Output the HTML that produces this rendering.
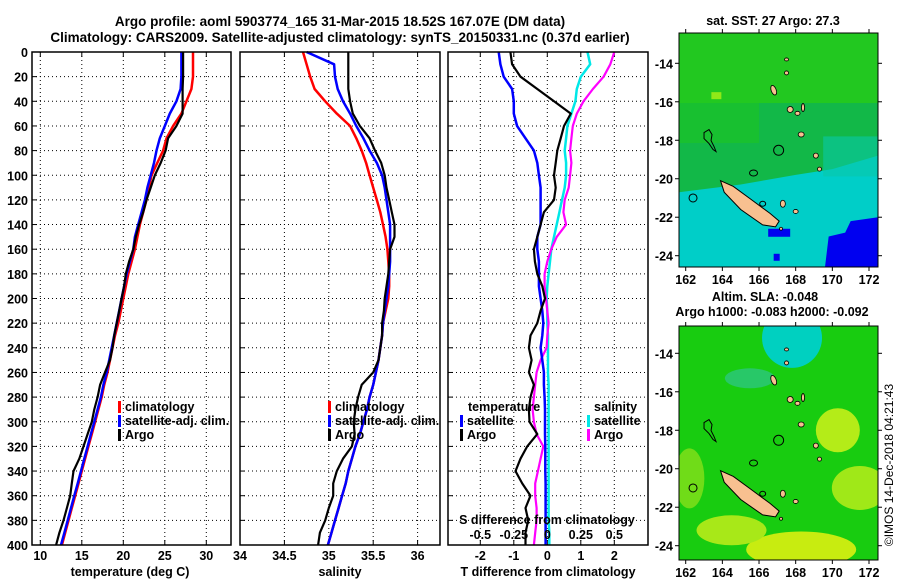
<!DOCTYPE html>
<html><head><meta charset="utf-8">
<style>
body{margin:0;background:#fff;}
svg{display:block;font-family:"Liberation Sans",sans-serif;font-weight:bold;}
</style></head>
<body>
<svg id="chart" width="900" height="580" viewBox="0 0 900 580" xmlns="http://www.w3.org/2000/svg">
<text x="340" y="26" font-size="13.5" text-anchor="middle">Argo profile: aoml 5903774_165 31-Mar-2015 18.52S 167.07E (DM data)</text>
<text x="340" y="42" font-size="13.5" text-anchor="middle">Climatology: CARS2009. Satellite-adjusted climatology: synTS_20150331.nc (0.37d earlier)</text>
<g id="plots"></g>
<text transform="translate(893,465) rotate(-90)" font-size="12" font-weight="normal" text-anchor="middle">©IMOS 14-Dec-2018 04:21:43</text>
</svg>
<script>
const depths=[0,10,20,30,40,50,60,70,80,90,100,110,120,130,140,150,160,170,180,190,200,210,220,230,240,250,260,270,280,290,300,310,320,330,340,350,360,370,380,390,400];
const climT=[28.4,28.4,28.4,28.2,27.6,27.0,26.0,25.2,24.8,24.1,23.4,23.1,22.8,22.4,22.0,21.7,21.4,21.0,20.6,20.3,20.0,19.7,19.4,19.0,18.7,18.4,18.1,17.7,17.4,17.0,16.6,16.2,15.8,15.4,15.0,14.6,14.2,13.8,13.4,13.0,12.6];
const satT=[27.0,27.0,27.0,26.9,26.4,25.6,25.0,24.4,24.0,23.7,23.3,22.9,22.6,22.2,21.8,21.4,21.2,20.8,20.4,20.1,19.8,19.5,19.2,18.9,18.6,18.3,18.0,17.6,17.3,16.9,16.5,16.1,15.7,15.3,14.9,14.5,14.1,13.7,13.3,12.9,12.5];
const argoT=[27.2,27.2,27.2,27.15,27.15,27.15,26.4,25.4,25.1,24.5,23.8,23.3,22.8,22.4,21.9,21.5,21.2,20.7,20.3,20.1,19.8,19.5,19.2,18.9,18.7,18.4,17.8,17.2,16.9,16.5,16.2,15.7,15.2,14.7,14.0,13.8,13.6,13.2,12.8,12.3,11.9];
const climS=[34.71,34.75,34.79,34.84,34.96,35.09,35.24,35.31,35.37,35.42,35.46,35.50,35.54,35.58,35.61,35.64,35.66,35.67,35.68,35.68,35.67,35.64,35.61,35.60,35.58,35.56,35.53,35.50,35.46,35.43,35.39,35.35,35.30,35.26,35.22,35.19,35.15,35.11,35.07,35.03,34.99];
const satS=[34.75,35.06,35.07,35.10,35.16,35.24,35.31,35.39,35.46,35.54,35.60,35.63,35.65,35.67,35.69,35.69,35.69,35.69,35.68,35.67,35.65,35.63,35.61,35.60,35.58,35.56,35.53,35.50,35.46,35.43,35.39,35.35,35.30,35.26,35.22,35.19,35.15,35.11,35.07,35.03,34.99];
const argoS=[35.22,35.22,35.22,35.22,35.24,35.27,35.35,35.46,35.52,35.59,35.63,35.65,35.68,35.71,35.74,35.74,35.69,35.68,35.67,35.65,35.63,35.62,35.60,35.60,35.58,35.56,35.50,35.37,35.33,35.30,35.28,35.29,35.26,35.16,35.09,35.05,35.05,35.00,34.96,34.90,34.88];
const satTdiff=[-1.45,-1.4,-1.3,-1.05,-1.0,-1.0,-0.9,-0.65,-0.4,-0.3,-0.25,-0.2,-0.2,-0.2,-0.2,-0.3,-0.3,-0.25,-0.25,-0.25,-0.2,-0.15,-0.12,-0.15,-0.2,-0.15,-0.1,-0.1,-0.08,-0.07,-0.07,-0.07,-0.06,-0.06,-0.06,-0.05,-0.05,-0.05,-0.05,-0.05,-0.05];
const argoTdiff=[-1.1,-1.05,-0.8,-0.3,0.2,0.7,0.5,0.4,0.3,0.25,0.2,0.25,0.2,-0.1,-0.2,-0.3,-0.4,-0.37,-0.3,-0.15,-0.07,-0.2,-0.3,-0.5,-0.55,-0.47,-0.55,-0.4,-0.5,-0.55,-0.53,-0.3,-0.6,-0.8,-0.95,-0.75,-0.5,-0.65,-0.57,-0.65,-0.65];
const satSdiff=[0.3,0.32,0.25,0.22,0.21,0.18,0.15,0.14,0.13,0.14,0.14,0.13,0.11,0.09,0.07,0.05,0.03,0.02,0.01,0.0,-0.005,0.0,0.0,0.005,0.005,0.005,0.005,0.01,0.01,0.01,0.01,0.01,0.01,0.01,0.01,0.01,0.01,0.01,0.01,0.015,0.015];
const argoSdiff=[0.5,0.47,0.42,0.34,0.27,0.22,0.19,0.18,0.17,0.18,0.17,0.16,0.13,0.12,0.14,0.07,0.03,0.0,-0.02,-0.02,-0.01,0.0,0.01,0.0,-0.005,-0.05,-0.08,-0.09,-0.1,-0.11,-0.1,-0.08,-0.03,-0.05,-0.07,-0.09,-0.09,-0.08,-0.08,-0.09,-0.1];
const depthTicks=[0,20,40,60,80,100,120,140,160,180,200,220,240,260,280,300,320,340,360,380,400];
const tempTicks=[10,15,20,25,30];
const salTicks=["34","34.5","35","35.5","36"];
const tdiffTicks=[-2,-1,0,1,2];
const sdiffTicks=["-0.5","-0.25","0","0.25","0.5"];
const lonTicks=[162,164,166,168,170,172];
const latTicks=[-14,-16,-18,-20,-22,-24];

const NS='http://www.w3.org/2000/svg';
const root=document.getElementById('plots');
function mk(tag,attrs,parent){const e=document.createElementNS(NS,tag);for(const k in attrs)e.setAttribute(k,attrs[k]);(parent||root).appendChild(e);return e;}
function txt(s,x,y,size,anchor,parent,fill){const t=mk('text',{x:x,y:y,'font-size':size,'text-anchor':anchor||'middle',fill:fill||'#000'},parent);t.textContent=s;return t;}
const Y0=52,Y1=545;
const yD=d=>Y0+d*(Y1-Y0)/400;
const xT=t=>40.3+(t-10)*8.3;
const xS=s=>240+(s-34)*88.8;
const xTd=v=>547.3+v*33.5;
const xSd=v=>547.3+v*134;

function frame(x0,x1,name){
  const g=mk('g',{});
  
  
  depthTicks.forEach(d=>{
    const gl=mk('line',{x1:x0,x2:x1,y1:yD(d),y2:yD(d),stroke:'#000','stroke-width':1,'stroke-dasharray':'1,3'},g);
    
    
    mk('line',{x1:x0,x2:x0+5,y1:yD(d),y2:yD(d),stroke:'#000','stroke-width':1},g);
  });
  return g;
}
function vgrid(g,xs){xs.forEach(x=>{
  const l=mk('line',{x1:x,x2:x,y1:Y0,y2:Y1,stroke:'#000','stroke-width':1,'stroke-dasharray':'1,3'},g);
  
  
  mk('line',{x1:x,x2:x,y1:Y1,y2:Y1-5,stroke:'#000'},g);
  mk('line',{x1:x,x2:x,y1:Y0,y2:Y0+5,stroke:'#000'},g);
});}
function box(g,x0,x1){const r=mk('rect',{x:x0,y:Y0,width:x1-x0,height:Y1-Y0,fill:'none',stroke:'#000','stroke-width':1.5},g);}
function line(g,vals,xf,color,w,name){
  const pts=vals.map((v,i)=>xf(v).toFixed(1)+','+yD(depths[i]).toFixed(1)).join(' ');
  const p=mk('polyline',{points:pts,fill:'none',stroke:color,'stroke-width':w,'stroke-linejoin':'round'},g);
  
  
}
function legend(g,x,y,color,label,name){
  const r=mk('rect',{x:x,y:y-10,width:3,height:12,fill:color},g);
  
  
  const t=txt(label,x+7,y,12.5,'start',g);
  
  
}

let g1=frame(32,231,'temperature-panel');
vgrid(g1,tempTicks.map(xT));
line(g1,climT,xT,'#ff0000',2.5,'climatology-temperature-line');
line(g1,satT,xT,'#0000ff',2.5,'satellite-temperature-line');
line(g1,argoT,xT,'#000000',2.2,'argo-temperature-line');
box(g1,32,231);
depthTicks.forEach(d=>{const t=txt(String(d),28,yD(d)+5,12.5,'end',g1);});
tempTicks.forEach(v=>{const t=txt(String(v),xT(v),560,12.5,'middle',g1);});
{const t=txt('temperature (deg C)',130,576,12.5,'middle',g1);}
legend(g1,118,411,'#ff0000','climatology','legend-climatology');
legend(g1,118,425,'#0000ff','satellite-adj. clim.','legend-satellite-adj');
legend(g1,118,439,'#000000','Argo','legend-argo');

let g2=frame(240,440,'salinity-panel');
vgrid(g2,salTicks.map(s=>xS(parseFloat(s))));
line(g2,climS,xS,'#ff0000',2.5,'climatology-salinity-line');
line(g2,satS,xS,'#0000ff',2.5,'satellite-salinity-line');
line(g2,argoS,xS,'#000000',2.2,'argo-salinity-line');
box(g2,240,440);
salTicks.forEach(s=>{const t=txt(s,xS(parseFloat(s)),560,12.5,'middle',g2);});
{const t=txt('salinity',340,576,12.5,'middle',g2);}
legend(g2,328,411,'#ff0000','climatology','legend-climatology');
legend(g2,328,425,'#0000ff','satellite-adj. clim.','legend-satellite-adj');
legend(g2,328,439,'#000000','Argo','legend-argo');

let g3=frame(448,648,'difference-panel');
vgrid(g3,tdiffTicks.map(xTd));
line(g3,satSdiff,xSd,'#00e8e8',2.5,'satellite-salinity-diff-line');
line(g3,argoSdiff,xSd,'#ff00ff',2.2,'argo-salinity-diff-line');
line(g3,satTdiff,xTd,'#0000ff',2.5,'satellite-temperature-diff-line');
line(g3,argoTdiff,xTd,'#000000',2.2,'argo-temperature-diff-line');
box(g3,448,648);
tdiffTicks.forEach(v=>{const t=txt(String(v),xTd(v),560,12.5,'middle',g3);});
{const t=txt('T difference from climatology',548,576,12.5,'middle',g3);}
{const t=txt('S difference from climatology',547,524,12.5,'middle',g3);}
sdiffTicks.forEach(s=>{const t=txt(s,xSd(parseFloat(s)),539,12.5,'middle',g3);});
{const t=txt('temperature',468,411,12.5,'start',g3);}
{const t=txt('salinity',594,411,12.5,'start',g3);}
legend(g3,460,425,'#0000ff','satellite','legend-temp-satellite');
legend(g3,460,439,'#000000','Argo','legend-temp-argo');
legend(g3,587,425,'#00e8e8','satellite','legend-sal-satellite');
legend(g3,587,439,'#ff00ff','Argo','legend-sal-argo');

function map(top,lat14y,name,kind){
  const X0=679,X1=878,bot=top+234;
  const lx=l=>685.7+(l-162)*18.33;
  const ly=l=>lat14y+(-14-l)*19.24;
  const g=mk('g',{});
  
  
  const cid='clip'+top;
  const cp=mk('clipPath',{id:cid},g);mk('rect',{x:X0,y:top,width:X1-X0,height:bot-top},cp);
  const m=mk('g',{'clip-path':'url(#'+cid+')'},g);
  if(kind==='sst'){
    mk('rect',{x:X0,y:top,width:199,height:234,fill:'#12b848'},m);
    mk('rect',{x:X0,y:top,width:199,height:70,fill:'#22c820'},m);
    mk('rect',{x:X0,y:top+70,width:80,height:40,fill:'#18c030'},m);
    mk('polygon',{points:`${X0},${ly(-20.7)} ${lx(165)},${ly(-20.3)} ${lx(168)},${ly(-19.8)} ${lx(170)},${ly(-19.5)} ${X1},${ly(-18.8)} ${X1},${bot} ${X0},${bot}`,fill:'#00cec8'},m);
    mk('rect',{x:lx(169.5),y:ly(-17.8),width:80,height:40,fill:'#08c8a8',opacity:0.6},m);
    mk('polygon',{points:`${lx(171)},${ly(-22.2)} ${X1},${ly(-22)} ${X1},${bot} ${lx(169.6)},${bot} ${lx(169.8)},${ly(-23)} ${lx(170.7)},${ly(-22.8)}`,fill:'#0000f0'},m);
    mk('rect',{x:lx(166.5),y:ly(-22.6),width:22,height:8,fill:'#0000f0'},m);
    mk('rect',{x:lx(166.8),y:ly(-23.9),width:6,height:7,fill:'#0000f0'},m);
    mk('rect',{x:lx(163.4),y:ly(-15.5),width:10,height:7,fill:'#90e818'},m);
  } else {
    mk('rect',{x:X0,y:top,width:199,height:234,fill:'#18cc10'},m);
    mk('ellipse',{cx:lx(167.8),cy:ly(-13.2),rx:30,ry:30,fill:'#00d0c0'},m);
    mk('ellipse',{cx:lx(165.5),cy:ly(-15.3),rx:25,ry:10,fill:'#28c868'},m);
    mk('ellipse',{cx:lx(170.3),cy:ly(-18),rx:22,ry:22,fill:'#b4ec18'},m);
    mk('ellipse',{cx:lx(168.3),cy:ly(-24.2),rx:55,ry:18,fill:'#c8ec10'},m);
    mk('ellipse',{cx:lx(164.5),cy:ly(-23.2),rx:35,ry:15,fill:'#a8e818'},m);
    mk('ellipse',{cx:lx(171.5),cy:ly(-21),rx:28,ry:22,fill:'#a0e818'},m);
    mk('ellipse',{cx:lx(162.2),cy:ly(-20.5),rx:15,ry:30,fill:'#70dc18'},m);
  }
  const isl='#f8c090';
  const nc=mk('polygon',{points:`${lx(163.9)},${ly(-20.1)} ${lx(164.6)},${ly(-20.4)} ${lx(165.6)},${ly(-21.1)} ${lx(166.6)},${ly(-21.8)} ${lx(167.1)},${ly(-22.2)} ${lx(166.9)},${ly(-22.5)} ${lx(166.2)},${ly(-22.4)} ${lx(165)},${ly(-21.6)} ${lx(164.1)},${ly(-20.7)}`,fill:isl,stroke:'#000','stroke-width':1},m);
  
  
  [[166.8,-15.4,2.5,5,-20],[167.7,-16.4,3,3,30],[168.4,-16.3,1.5,4,0],[168.1,-16.6,2.5,2,0],[168.3,-17.7,3,2.5,0],[169.1,-18.8,2.5,2.5,0],[169.3,-19.5,2,2,0],[167.3,-21.3,2.5,3.5,0],[168,-21.7,2.5,2,0],[167.5,-14.5,2,2,0],[167.5,-13.8,2,1.5,0],[167.2,-22.6,1.5,1.5,0]].forEach(a=>{
    mk('ellipse',{cx:lx(a[0]),cy:ly(a[1]),rx:a[2],ry:a[3],transform:`rotate(${a[4]} ${lx(a[0])} ${ly(a[1])})`,fill:isl,stroke:'#000','stroke-width':0.8},m);
  });
  mk('path',{d:`M${lx(163)},${ly(-17.6)} l5,-3 l3,5 l-1,6 l3,6 l2,5 l-3,-2 l-4,-6 l-5,-5 z`,fill:'none',stroke:'#000','stroke-width':1},m);
  mk('ellipse',{cx:lx(165.7),cy:ly(-19.7),rx:4,ry:3,fill:'none',stroke:'#000'},m);
  mk('ellipse',{cx:lx(162.4),cy:ly(-21),rx:4,ry:4,fill:'none',stroke:'#000'},m);
  mk('ellipse',{cx:lx(166.2),cy:ly(-21.3),rx:3,ry:2.5,fill:'none',stroke:'#000'},m);
  const pos=mk('circle',{cx:lx(167.07),cy:ly(-18.52),r:5,fill:'none',stroke:'#000','stroke-width':1},m);
  
  
  mk('rect',{x:X0,y:top,width:X1-X0,height:bot-top,fill:'none',stroke:'#000','stroke-width':1},g);
  lonTicks.forEach(l=>{
    mk('line',{x1:lx(l),x2:lx(l),y1:top,y2:top-4,stroke:'#000'},g);
    mk('line',{x1:lx(l),x2:lx(l),y1:bot,y2:bot+4,stroke:'#000'},g);
    const t=txt(String(l),lx(l),bot+17,12.5,'middle',g);
    
    
  });
  latTicks.forEach(l=>{
    mk('line',{x1:X0,x2:X0-4,y1:ly(l),y2:ly(l),stroke:'#000'},g);
    mk('line',{x1:X1,x2:X1+4,y1:ly(l),y2:ly(l),stroke:'#000'},g);
    const t=txt(String(l),673,ly(l)+5,12.5,'end',g);
    
    
  });
  return g;
}
const gm1=map(33,63.3,'sst-map','sst');
{const t=txt('sat. SST: 27 Argo: 27.3',773,25,12.5,'middle',gm1);}
const gm2=map(326,353.3,'sla-map','sla');
{const t=txt('Altim. SLA: -0.048',765,301,12.5,'middle',gm2);}
{const t=txt('Argo h1000: -0.083 h2000: -0.092',772,316,12.5,'middle',gm2);}
</script>
</body></html>
